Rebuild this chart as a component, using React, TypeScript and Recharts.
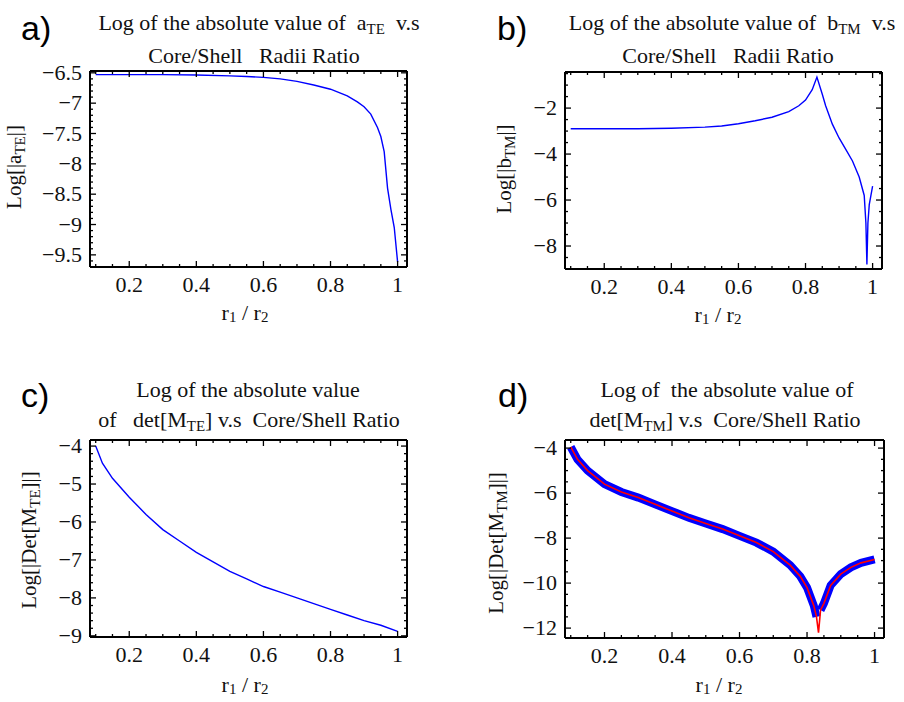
import React from 'react';
import { LineChart, Line, XAxis, YAxis } from 'recharts';

const W = 904;
const H = 702;
const SERIF = '"Liberation Serif", "Times New Roman", serif';
const SANS = '"Liberation Sans", Arial, sans-serif';

// x ticks (shared)
const xMajor = [0.2, 0.4, 0.6, 0.8, 1];
const xMinor = [0.1, 0.15, 0.2, 0.25, 0.3, 0.35, 0.4, 0.45, 0.5, 0.55, 0.6, 0.65, 0.7, 0.75, 0.8, 0.85, 0.9, 0.95, 1];

// a) log|a_TE|
const aX = [0.1, 0.2, 0.3, 0.4, 0.5, 0.55, 0.6, 0.65, 0.7, 0.75, 0.8, 0.85, 0.88, 0.9, 0.92, 0.94, 0.95, 0.96, 0.97, 0.98, 0.99, 1.0];
const aY = [-6.53, -6.53, -6.53, -6.535, -6.55, -6.56, -6.575, -6.6, -6.64, -6.7, -6.77, -6.88, -6.98, -7.06, -7.18, -7.4, -7.55, -7.8, -8.4, -8.75, -9.05, -9.62];
const aYMajor = [-6.5, -7, -7.5, -8, -8.5, -9, -9.5];
const aYMinor = [-6.5, -6.6, -6.7, -6.8, -6.9, -7, -7.1, -7.2, -7.3, -7.4, -7.5, -7.6, -7.7, -7.8, -7.9, -8, -8.1, -8.2, -8.3, -8.4, -8.5, -8.6, -8.7, -8.8, -8.9, -9, -9.1, -9.2, -9.3, -9.4, -9.5, -9.6];

// b) log|b_TM|
const bX = [0.1, 0.2, 0.3, 0.4, 0.5, 0.55, 0.6, 0.65, 0.7, 0.75, 0.78, 0.8, 0.82, 0.834, 0.85, 0.86, 0.88, 0.9, 0.92, 0.94, 0.96, 0.975, 0.98, 0.983, 0.986, 0.99, 0.995, 1.0];
const bY = [-2.9, -2.9, -2.9, -2.88, -2.83, -2.78, -2.68, -2.55, -2.4, -2.15, -1.9, -1.65, -1.2, -0.65, -1.4, -1.9, -2.7, -3.3, -3.8, -4.3, -5.0, -5.8, -7.0, -8.8, -7.0, -6.2, -5.8, -5.4];
const bYMajor = [-2, -4, -6, -8];
const bYMinor = [-0.5, -1, -1.5, -2, -2.5, -3, -3.5, -4, -4.5, -5, -5.5, -6, -6.5, -7, -7.5, -8, -8.5, -9];

// c) log|det M_TE|
const cX = [0.1, 0.12, 0.15, 0.2, 0.25, 0.3, 0.35, 0.4, 0.45, 0.5, 0.55, 0.6, 0.65, 0.7, 0.75, 0.8, 0.85, 0.9, 0.95, 1.0];
const cY = [-4.0, -4.45, -4.85, -5.35, -5.8, -6.2, -6.5, -6.8, -7.05, -7.3, -7.5, -7.7, -7.85, -8.0, -8.15, -8.3, -8.45, -8.6, -8.72, -8.88];
const cYMajor = [-4, -5, -6, -7, -8, -9];
const cYMinor = [-4, -4.2, -4.4, -4.6, -4.8, -5, -5.2, -5.4, -5.6, -5.8, -6, -6.2, -6.4, -6.6, -6.8, -7, -7.2, -7.4, -7.6, -7.8, -8, -8.2, -8.4, -8.6, -8.8, -9];

// d) log|det M_TM|
const dX = [0.1, 0.12, 0.15, 0.2, 0.25, 0.3, 0.35, 0.4, 0.45, 0.5, 0.55, 0.6, 0.65, 0.7, 0.75, 0.78, 0.8, 0.82, 0.828, 0.834, 0.84, 0.85, 0.87, 0.9, 0.93, 0.96, 1.0];
const dRed = [-3.95, -4.5, -5.0, -5.6, -5.95, -6.2, -6.5, -6.8, -7.1, -7.35, -7.6, -7.9, -8.2, -8.6, -9.2, -9.7, -10.2, -11.0, -11.5, -12.2, -11.2, -10.9, -10.1, -9.6, -9.3, -9.1, -8.95];
const dBlue = [-3.95, -4.5, -5.0, -5.6, -5.95, -6.2, -6.5, -6.8, -7.1, -7.35, -7.6, -7.9, -8.2, -8.6, -9.2, -9.7, -10.2, -11.0, -11.5, null, -11.2, -10.9, -10.1, -9.6, -9.3, -9.1, -8.95];
const dYMajor = [-4, -6, -8, -10, -12];
const dYMinor = [-4, -4.5, -5, -5.5, -6, -6.5, -7, -7.5, -8, -8.5, -9, -9.5, -10, -10.5, -11, -11.5, -12];

const zip = (xs: number[], ys: (number | null)[]) => xs.map((x, i) => ({ x, y: ys[i] }));

const fmt = (v: number) => String(Math.round(v * 100) / 100).replace('-', '\u2212');
const isMajor = (v: number, majors: number[]) => majors.some((m) => Math.abs(m - v) < 1e-6);

const makeTick = (side: string, majors: number[]) => (props: any) => {
  const { x, y, payload } = props;
  const v = payload.value;
  const major = isMajor(v, majors);
  const len = major ? 6 : 3;
  const ln = { stroke: '#000', strokeWidth: 1.3 };
  if (side === 'bottom') {
    return (
      <g>
        <line x1={x} y1={y} x2={x} y2={y - len} {...ln} />
        {major && (
          <text x={x} y={y + 25} textAnchor="middle" fontFamily={SERIF} fontSize={22} fill="#111">{fmt(v)}</text>
        )}
      </g>
    );
  }
  if (side === 'top') {
    return <line x1={x} y1={y} x2={x} y2={y + len} {...ln} />;
  }
  if (side === 'left') {
    return (
      <g>
        <line x1={x} y1={y} x2={x + len} y2={y} {...ln} />
        {major && (
          <text x={x - 8} y={y + 7} textAnchor="end" fontFamily={SERIF} fontSize={22} fill="#111">{fmt(v)}</text>
        )}
      </g>
    );
  }
  return <line x1={x} y1={y} x2={x - len} y2={y} {...ln} />;
};

type Series = { data: { x: number; y: number | null }[]; color: string; width: number };

// box = plot frame in page pixels
function Panel(props: {
  box: { left: number; top: number; right: number; bottom: number };
  yDomain: [number, number];
  yMajor: number[];
  yMinor: number[];
  series: Series[];
}) {
  const { box, yDomain, yMajor, yMinor, series } = props;
  const xDomain: [number, number] = [0.083, 1.028];
  const axisLine = { stroke: '#000', strokeWidth: 2 };
  const margin = { top: box.top - 1, left: box.left - 1, right: W - box.right - 1, bottom: H - box.bottom - 1 };
  return (
    <div style={{ position: 'absolute', left: 0, top: 0 }}>
      <LineChart width={W} height={H} margin={margin}>
        <XAxis xAxisId="b" orientation="bottom" type="number" dataKey="x" domain={xDomain} allowDataOverflow ticks={xMinor} interval={0} tickSize={0} tickMargin={0} tickLine={false} tick={makeTick('bottom', xMajor)} axisLine={axisLine} height={1} />
        <XAxis xAxisId="t" orientation="top" type="number" dataKey="x" domain={xDomain} allowDataOverflow ticks={xMinor} interval={0} tickSize={0} tickMargin={0} tickLine={false} tick={makeTick('top', xMajor)} axisLine={axisLine} height={1} />
        <YAxis yAxisId="l" orientation="left" type="number" domain={yDomain} allowDataOverflow ticks={yMinor} interval={0} tickSize={0} tickMargin={0} tickLine={false} tick={makeTick('left', yMajor)} axisLine={axisLine} width={1} />
        <YAxis yAxisId="r" orientation="right" type="number" domain={yDomain} allowDataOverflow ticks={yMinor} interval={0} tickSize={0} tickMargin={0} tickLine={false} tick={makeTick('right', yMajor)} axisLine={axisLine} width={1} />
        {series.map((s, i) => (
          <Line key={i} xAxisId="b" yAxisId="l" data={s.data} dataKey="y" type="linear" stroke={s.color} strokeWidth={s.width} dot={false} connectNulls={false} isAnimationActive={false} />
        ))}
      </LineChart>
    </div>
  );
}

// base text, subscript, rest
const withSub = (base: string, s: string, rest: string) => [
  base,
  <tspan key="s" fontSize={15} dy={4}>{s}</tspan>,
  <tspan key="r" dy={-4}>{rest}</tspan>,
];

function Labels() {
  const t = { fontFamily: SERIF, fontSize: 22, fill: '#111', textAnchor: 'middle' as const, style: { whiteSpace: 'pre' as const } };
  const ylab = { fontFamily: SERIF, fontSize: 21, fill: '#111', textAnchor: 'middle' as const };
  const xl = (cx: number, by: number) => (
    <text x={cx} y={by} {...t}>
      r<tspan fontSize={15} dy={2}>1</tspan><tspan dy={-2}> / r</tspan><tspan fontSize={15} dy={2}>2</tspan>
    </text>
  );
  const lt = { fontFamily: SANS, fontSize: 34, fill: '#000' };
  return (
    <svg width={W} height={H} style={{ position: 'absolute', left: 0, top: 0 }}>
      <text x={21} y={40} {...lt}>a)</text>
      <text x={497} y={40} {...lt}>b)</text>
      <text x={21} y={407} {...lt}>c)</text>
      <text x={498} y={407} {...lt}>d)</text>

      <text x={259} y={30} {...t}>{withSub('Log of the absolute value of  a', 'TE', '  v.s')}</text>
      <text x={254} y={63} {...t}>Core/Shell   Radii Ratio</text>
      <text x={732} y={30} {...t}>{withSub('Log of the absolute value of  b', 'TM', '  v.s')}</text>
      <text x={728} y={63} {...t}>Core/Shell   Radii Ratio</text>
      <text x={248} y={397} {...t}>Log of the absolute value</text>
      <text x={249} y={427} {...t}>{withSub('of   det[M', 'TE', '] v.s  Core/Shell Ratio')}</text>
      <text x={727} y={397} {...t}>Log of  the absolute value of</text>
      <text x={725} y={427} {...t}>{withSub('det[M', 'TM', '] v.s  Core/Shell Ratio')}</text>

      {xl(245, 320)}
      {xl(718, 322)}
      {xl(245, 692)}
      {xl(719, 692)}

      <text transform="translate(21,167) rotate(-90)" {...ylab}>{withSub('Log[|a', 'TE', '|]')}</text>
      <text transform="translate(511,169) rotate(-90)" {...ylab}>{withSub('Log[|b', 'TM', '|]')}</text>
      <text transform="translate(36,540) rotate(-90)" {...ylab}>{withSub('Log[|Det[M', 'TE', ']|]')}</text>
      <text transform="translate(503,543) rotate(-90)" {...ylab}>{withSub('Log[|Det[M', 'TM', ']|]')}</text>
    </svg>
  );
}

export default function App() {
  return (
    <div style={{ position: 'absolute', left: 0, top: 0, width: W, height: H, background: '#fff', overflow: 'hidden' }}>
      <Panel
        box={{ left: 90, top: 71, right: 407, bottom: 267 }}
        yDomain={[-9.7, -6.47]}
        yMajor={aYMajor}
        yMinor={aYMinor}
        series={[{ data: zip(aX, aY), color: '#0000ff', width: 1.4 }]}
      />
      <Panel
        box={{ left: 565, top: 72, right: 882, bottom: 269 }}
        yDomain={[-9.0, -0.43]}
        yMajor={bYMajor}
        yMinor={bYMinor}
        series={[{ data: zip(bX, bY), color: '#0000ff', width: 1.4 }]}
      />
      <Panel
        box={{ left: 90, top: 440, right: 407, bottom: 637 }}
        yDomain={[-9.03, -3.84]}
        yMajor={cYMajor}
        yMinor={cYMinor}
        series={[{ data: zip(cX, cY), color: '#0000ff', width: 1.4 }]}
      />
      <Panel
        box={{ left: 565, top: 440, right: 884, bottom: 638 }}
        yDomain={[-12.44, -3.64]}
        yMajor={dYMajor}
        yMinor={dYMinor}
        series={[
          { data: zip(dX, dBlue), color: '#0000ff', width: 8 },
          { data: zip(dX, dRed), color: '#ff0000', width: 1.6 },
        ]}
      />
      <Labels />
    </div>
  );
}
